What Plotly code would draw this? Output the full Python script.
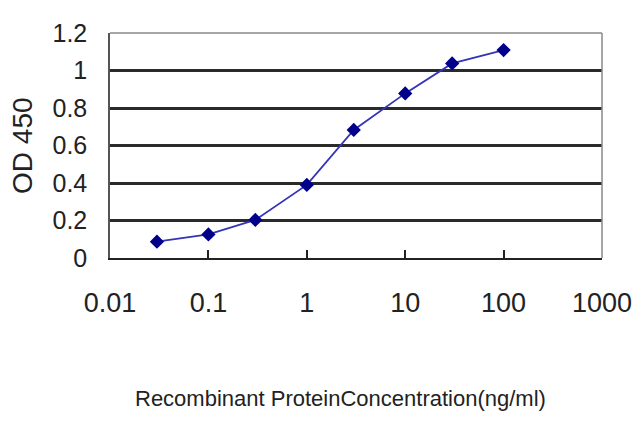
import plotly.graph_objects as go

concentration = [0.03, 0.1, 0.3, 1, 3, 10, 30, 100]
od450 = [0.087, 0.126, 0.203, 0.39, 0.683, 0.878, 1.038, 1.109]
x_ticks = [0.01, 0.1, 1, 10, 100, 1000]
x_tick_text = ["0.01", "0.1", "1", "10", "100", "1000"]
y_ticks = [0, 0.2, 0.4, 0.6, 0.8, 1, 1.2]
y_tick_text = ["0", "0.2", "0.4", "0.6", "0.8", "1", "1.2"]

sans = "Liberation Sans, Arial, sans-serif"

fig = go.Figure()
fig.add_trace(go.Scatter(
    x=concentration, y=od450, mode="lines+markers",
    line=dict(color="#3434b8", width=1.8),
    marker=dict(symbol="diamond", size=11, color="#00008b"),
    showlegend=False,
))

# page body has an 8px margin; figure is sized/offset to compensate
fig.update_layout(
    width=632, height=419,
    margin=dict(l=102, r=38, t=25, b=169),
    paper_bgcolor="white", plot_bgcolor="white",
    xaxis=dict(
        type="log", range=[-2, 3], automargin=False,
        tickvals=x_ticks, ticktext=x_tick_text,
        ticks="inside", ticklen=8, tickwidth=2, tickcolor="#222",
        showgrid=False, zeroline=False,
        showline=True, linecolor="#222", linewidth=2,
        tickfont=dict(family=sans, size=27, color="#222"),
        ticklabelstandoff=20,
    ),
    yaxis=dict(
        range=[0, 1.2], automargin=False,
        tickvals=y_ticks, ticktext=y_tick_text,
        showgrid=True, gridcolor="#2a2a2a", gridwidth=2.5,
        zeroline=False, ticks="",
        showline=True, linecolor="#555", linewidth=1.5,
        tickfont=dict(family=sans, size=25, color="#222"),
        ticklabelstandoff=16,
    ),
    shapes=[
        dict(type="line", xref="paper", yref="paper", x0=0, x1=1, y0=1, y1=1,
             line=dict(color="#888", width=1.5)),
        dict(type="line", xref="paper", yref="paper", x0=1, x1=1, y0=0, y1=1,
             line=dict(color="#888", width=1.5)),
    ],
    annotations=[
        dict(text="OD 450", xref="paper", yref="paper", x=-0.178, y=0.5,
             textangle=-90, showarrow=False,
             font=dict(family=sans, size=28, color="#222"),
             xanchor="center", yanchor="middle"),
        dict(text="Recombinant ProteinConcentration(ng/ml)", xref="paper", yref="paper",
             x=(340 - 110) / 492, y=-(398 - 258) / 225, showarrow=False,
             font=dict(family=sans, size=22, color="#222"),
             xanchor="center", yanchor="middle"),
    ],
)

fig.write_html("out.html")
